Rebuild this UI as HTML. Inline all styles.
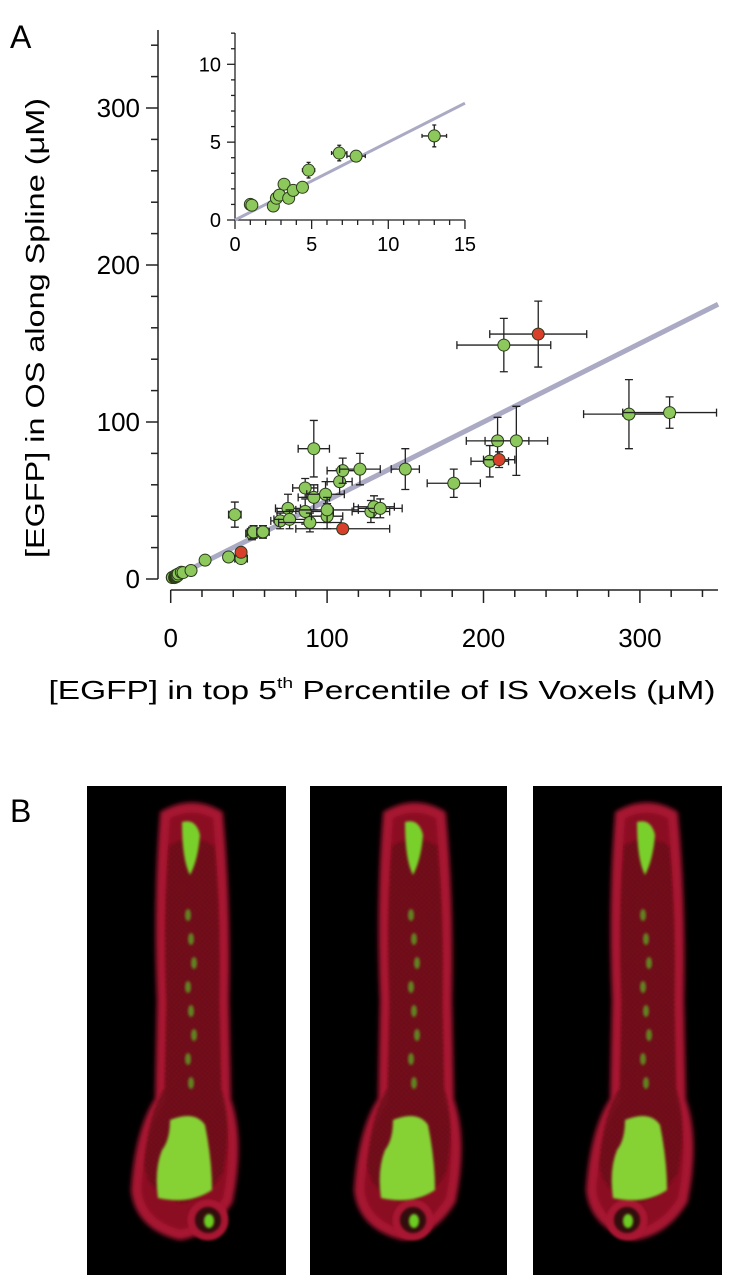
<!DOCTYPE html>
<html><head><meta charset="utf-8"><style>
html,body{margin:0;padding:0;background:#fff;}
svg{display:block;font-family:"Liberation Sans",Arial,sans-serif;}
</style></head><body>
<svg id="fig" width="733" height="1280" viewBox="0 0 733 1280" xmlns="http://www.w3.org/2000/svg">
<defs>
<filter id="blur1" x="-20%" y="-20%" width="140%" height="140%"><feGaussianBlur stdDeviation="2.5"/></filter>
<filter id="blur2" x="-20%" y="-20%" width="140%" height="140%"><feGaussianBlur stdDeviation="1.2"/></filter>
<pattern id="mesh" width="6" height="6" patternUnits="userSpaceOnUse"><rect width="6" height="6" fill="#4a0810"/><path d="M0,0L6,6M6,0L0,6" stroke="#8a1222" stroke-width="1"/></pattern>
</defs>
<text x="10" y="48" font-size="32">A</text>
<text x="10" y="822" font-size="32">B</text>
<g id="main"></g>
<g id="inset"></g>
<text transform="translate(44,328) rotate(-90)" text-anchor="middle" font-size="26" textLength="460" lengthAdjust="spacingAndGlyphs">[EGFP] in OS along Spline (μM)</text>
<text x="382" y="699" text-anchor="middle" font-size="26" textLength="667" lengthAdjust="spacingAndGlyphs">[EGFP] in top 5<tspan font-size="15" dy="-11">th</tspan><tspan dy="11"> Percentile of IS Voxels (μM)</tspan></text>
<g id="panelB"></g>
</svg>
<script>
// ---- data (main chart) ----
const xVals = [1,1.1,2.5,2.7,2.9,3.2,3.5,3.8,4.4,4.8,6.8,7.9,13,22,37,45,41,52,53,59,70,75,76,86,86,89,91.5,91.5,99,100,100,108,110,121,128,130,134,150,181,204,209,221,213,293,319];
const yVals = [1,0.95,0.9,1.4,1.6,2.3,1.4,1.9,2.1,3.2,4.3,4.1,5.4,12,14,13,41,29,30,30,37,45,38,58,43,36,83,52,54,40,44,62,69,70,43,46,45,70,61,75,88,88,149,105,106];
const xErr = [0,0,0,0,0,0,0,0,0,0.4,0.5,0.6,0.8,0,3,4,4,4,4,4,6,8,10,8,18,20,10,10,12,10,20,8,10,13,12,13,14,9,17,12,20,20,30,29,30];
const yErr = [0,0,0,0,0,0,0,0,0.3,0.5,0.5,0.3,0.7,0,2,3,8,4,4,4,5,9,6,6,8,6,18,8,8,8,8,8,8,10,7,7,6,13,9,10,15,22,17,22,10];
const redX = [45,110,210,235];
const redY = [17,32,76,156];
const redXErr = [0,30,10,31];
const redYErr = [0,0,5,21];
const fitSlope = [0.5];
const mainXTicks = [0,100,200,300];
const mainYTicks = [0,100,200,300];
// ---- data (inset) ----
const insetXTicks = [0,5,10,15];
const insetYTicks = [0,5,10];

const NS="http://www.w3.org/2000/svg";
function mk(parent,tag,attrs){const e=document.createElementNS(NS,tag);for(const k in attrs)e.setAttribute(k,attrs[k]);parent.appendChild(e);return e;}

const mx = v => 170.7 + v*1.564;
const my = v => 579 - v*1.57;
const ix = v => 235 + v*15.33;
const iy = v => 220 - v*15.57;

const main=document.getElementById('main');
let ln=mk(main,'line',{x1:158,y1:30,x2:158,y2:579,stroke:'#222','stroke-width':1.5});


for(let v=0; my(v)>=30; v+=20){
  const major=v%100===0;
  const t=mk(main,'line',{x1:major?146:151,y1:my(v),x2:158,y2:my(v),stroke:'#222','stroke-width':1.5});
  
  
}
mainYTicks.forEach(v=>{
  const t=mk(main,'text',{x:140,y:my(v)+9,'text-anchor':'end','font-size':26});
  t.textContent=v;
  
  
});
ln=mk(main,'line',{x1:170.7,y1:590,x2:718,y2:590,stroke:'#222','stroke-width':1.5});


for(let v=0; mx(v)<=719; v+=20){
  const major=v%100===0;
  const t=mk(main,'line',{x1:mx(v),y1:590,x2:mx(v),y2:major?603:597,stroke:'#222','stroke-width':1.5});
  
  
}
mainXTicks.forEach(v=>{
  const t=mk(main,'text',{x:mx(v),y:647,'text-anchor':'middle','font-size':26});
  t.textContent=v;
  
  
});
const fit=mk(main,'line',{x1:mx(0),y1:my(0),x2:mx(350),y2:my(350*fitSlope[0]),stroke:'#aaaac4','stroke-width':5});



function drawPoint(g,sx,sy,x,y,xe,ye,fill,r,cap,name){
  if(xe>0){
    const e=mk(g,'path',{d:`M${sx(x-xe)},${sy(y)}H${sx(x+xe)}M${sx(x-xe)},${sy(y)-cap}V${sy(y)+cap}M${sx(x+xe)},${sy(y)-cap}V${sy(y)+cap}`,stroke:'#222','stroke-width':1.3,fill:'none'});
    
    
  }
  if(ye>0){
    const e=mk(g,'path',{d:`M${sx(x)},${sy(y-ye)}V${sy(y+ye)}M${sx(x)-cap},${sy(y-ye)}H${sx(x)+cap}M${sx(x)-cap},${sy(y+ye)}H${sx(x)+cap}`,stroke:'#222','stroke-width':1.3,fill:'none'});
    
    
  }
  const c=mk(g,'circle',{cx:sx(x),cy:sy(y),r:r,fill:fill,stroke:'#2a3a1a','stroke-width':1});
  
  
}
xVals.forEach((x,i)=>drawPoint(main,mx,my,x,yVals[i],xErr[i],yErr[i],'#8dc85c',6,4,'data-point'));
redX.forEach((x,i)=>drawPoint(main,mx,my,x,redY[i],redXErr[i],redYErr[i],'#d8402c',6,4,'data-point-red'));

const ins=document.getElementById('inset');
ln=mk(ins,'line',{x1:235,y1:33,x2:235,y2:220,stroke:'#222','stroke-width':1.3});


for(let v=0; v<=12; v++){
  const major=v%5===0;
  const t=mk(ins,'line',{x1:major?227:231,y1:iy(v),x2:235,y2:iy(v),stroke:'#222','stroke-width':1.3});
  
  
}
insetYTicks.forEach(v=>{
  const t=mk(ins,'text',{x:221,y:iy(v)+7,'text-anchor':'end','font-size':20});
  t.textContent=v;
  
  
});
ln=mk(ins,'line',{x1:235,y1:220,x2:ix(15),y2:220,stroke:'#222','stroke-width':1.3});


for(let v=0; v<=15; v++){
  const major=v%5===0;
  const t=mk(ins,'line',{x1:ix(v),y1:220,x2:ix(v),y2:major?229:225,stroke:'#222','stroke-width':1.3});
  
  
}
insetXTicks.forEach(v=>{
  const t=mk(ins,'text',{x:ix(v),y:251,'text-anchor':'middle','font-size':20});
  t.textContent=v;
  
  
});
const ifit=mk(ins,'line',{x1:ix(0),y1:iy(0),x2:ix(15),y2:iy(15*fitSlope[0]),stroke:'#aaaac4','stroke-width':3});


xVals.forEach((x,i)=>{ if(x<=15) drawPoint(ins,ix,iy,x,yVals[i],xErr[i],yErr[i],'#8dc85c',6,2,'inset-data-point'); });

// panel B
const pb=document.getElementById('panelB');
const panels=[{x:87,w:199,cx:0,foot:1},{x:310,w:197,cx:223,foot:0},{x:533,w:189,cx:455,foot:-1}];
panels.forEach((p,k)=>{
  const g=mk(pb,'g',{});
  
  
  mk(g,'rect',{x:p.x,y:786,width:p.w,height:489,fill:'#000'});
  const o=p.cx;
  const body=`M${o+165},${815} Q${o+192},${800} ${o+218},${815} Q${o+226},${900} ${o+224},${1000} L${o+226},${1100} Q${o+240},${1140} ${o+228},${1200} Q${o+210},${1230} ${o+180},${1235} Q${o+140},${1225} ${o+136},${1190} Q${o+140},${1130} ${o+160},${1100} L${o+162},${1000} Q${o+158},${900} ${o+165},${815}Z`;
  mk(g,'path',{d:body,fill:'#8a1020',stroke:'#a81830','stroke-width':10,filter:'url(#blur1)'});
  mk(g,'path',{d:body,fill:'url(#mesh)',opacity:0.75,transform:`translate(${(o+192)*0.15},${1020*0.15}) scale(0.85)`,filter:'url(#blur2)'});
  const fx=o+190+p.foot*18;
  mk(g,'ellipse',{cx:fx,cy:1220,rx:17,ry:17,fill:'#300810',stroke:'#a81830','stroke-width':7,filter:'url(#blur2)'});
  mk(g,'ellipse',{cx:fx+1,cy:1221,rx:5,ry:7,fill:'#6ccc20',filter:'url(#blur2)'});
  mk(g,'path',{d:`M${o+182},${822} Q${o+196},${818} ${o+200},${835} Q${o+198},${860} ${o+190},${875} Q${o+182},${860} ${o+182},${822}Z`,fill:'#7ad02a',filter:'url(#blur2)'});
  for(let j=0;j<8;j++) mk(g,'ellipse',{cx:o+188+(j%3)*3,cy:915+j*24,rx:3,ry:6,fill:'#5fa020',opacity:0.8,filter:'url(#blur2)'});
  mk(g,'path',{d:`M${o+170},${1120} Q${o+195},${1110} ${o+205},${1125} Q${o+212},${1160} ${o+212},${1190} Q${o+190},${1205} ${o+158},${1198} Q${o+154},${1170} ${o+162},${1150} Q${o+170},${1140} ${o+170},${1120}Z`,fill:'#86d236',filter:'url(#blur2)'});
});
</script>
</body></html>
